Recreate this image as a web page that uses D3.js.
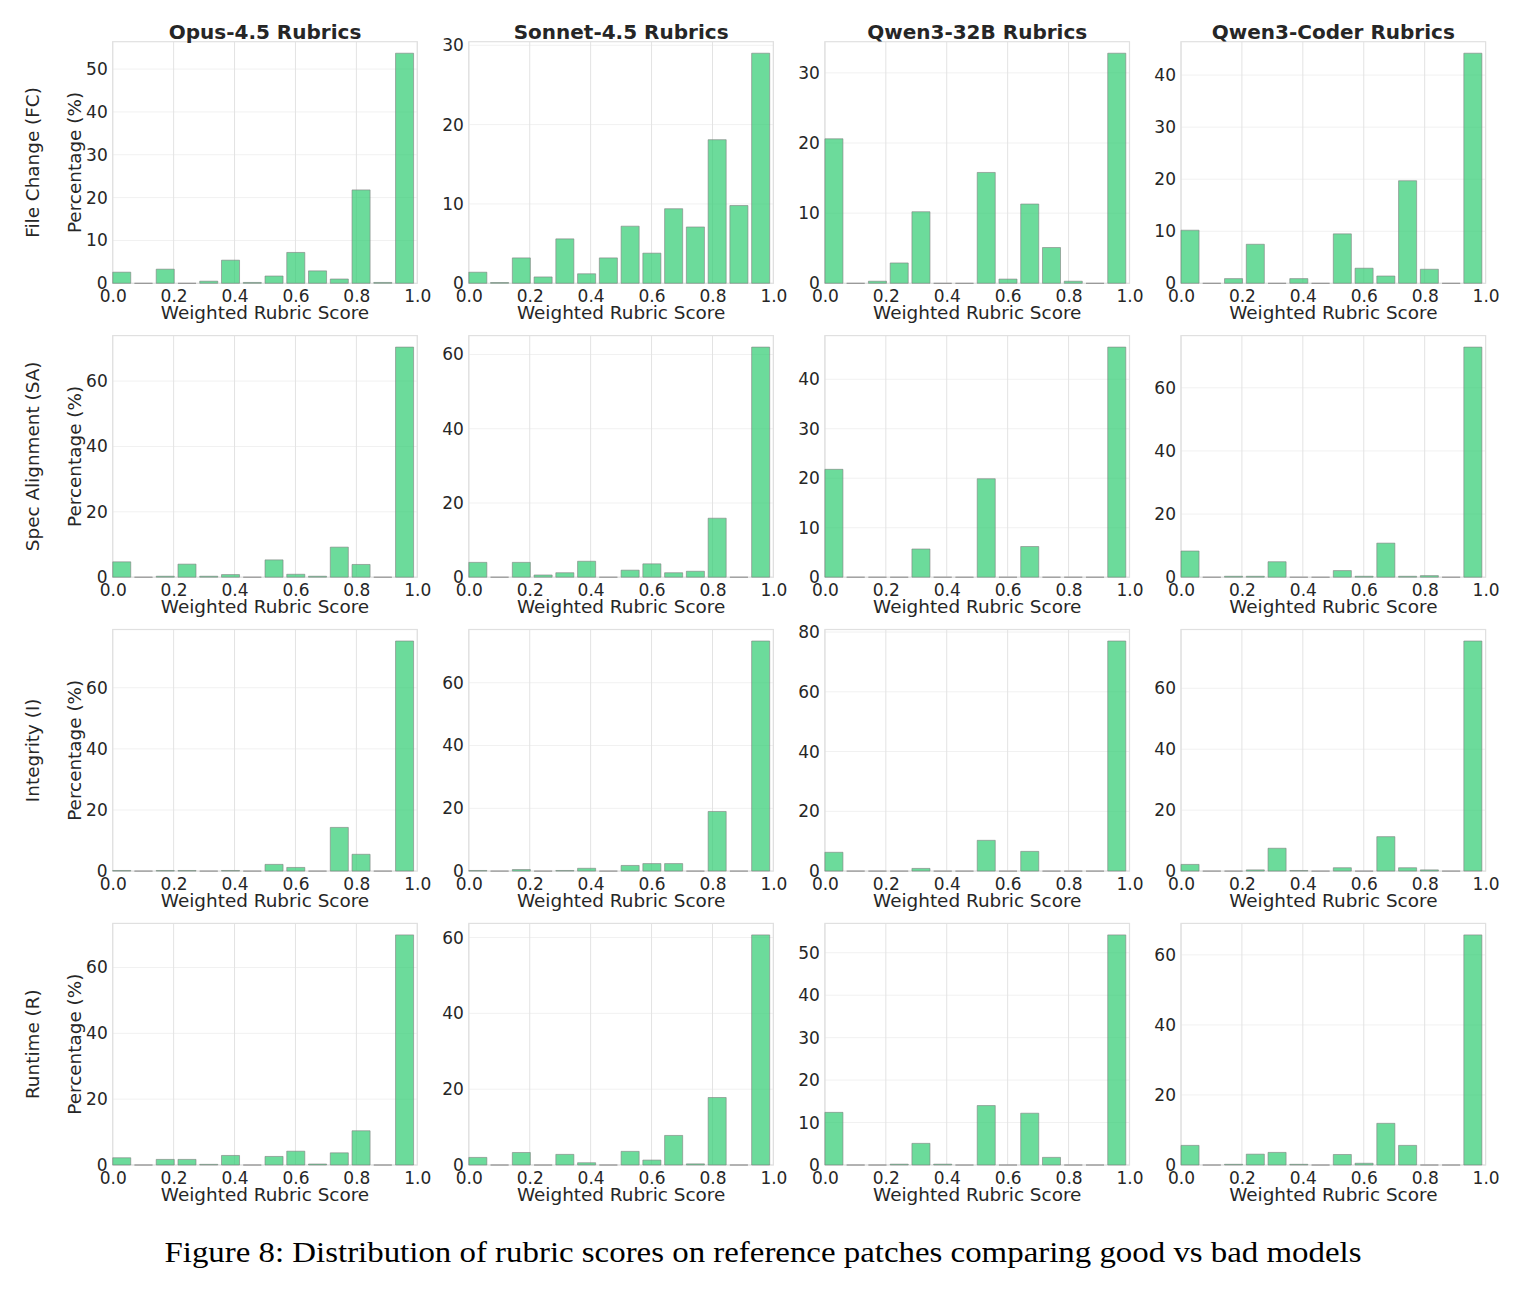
<!DOCTYPE html>
<html>
<head>
<meta charset="utf-8">
<script src="https://cdn.jsdelivr.net/npm/d3@7"></script>
<style>
  body { margin: 0; background: #fff; }
  svg { display: block; }
</style>
</head>
<body>
<script>
// --------------------
// DATA (percent of patches per score bin, 14 bins over [0, 1])
// --------------------
const models = ["Opus-4.5", "Sonnet-4.5", "Qwen3-32B", "Qwen3-Coder"];
const metrics = ["File Change (FC)", "Spec Alignment (SA)", "Integrity (I)", "Runtime (R)"];
const xTicks = [0, 0.2, 0.4, 0.6, 0.8, 1.0];
const nBins = 14;

const fcOpus   = [2.6, 0, 3.3, 0, 0.5, 5.4, 0.2, 1.7, 7.2, 2.9, 1.0, 21.8, 0.2, 53.7];
const fcSonnet = [1.4, 0.1, 3.2, 0.8, 5.6, 1.2, 3.2, 7.2, 3.8, 9.4, 7.1, 18.1, 9.8, 29.0];
const fcQwen32 = [20.6, 0, 0.3, 2.9, 10.2, 0, 0, 15.8, 0.6, 11.3, 5.1, 0.3, 0, 32.8];
const fcCoder  = [10.2, 0, 0.9, 7.5, 0, 0.9, 0, 9.5, 2.9, 1.4, 19.7, 2.7, 0, 44.2];

const saOpus   = [4.7, 0, 0.3, 4.0, 0.3, 0.8, 0, 5.3, 0.9, 0.3, 9.2, 3.9, 0, 70.4];
const saSonnet = [4.0, 0, 4.0, 0.6, 1.2, 4.3, 0, 1.9, 3.6, 1.2, 1.6, 15.9, 0, 62.0];
const saQwen32 = [21.8, 0, 0, 0, 5.7, 0, 0, 19.9, 0, 6.2, 0, 0, 0, 46.5];
const saCoder  = [8.3, 0, 0.3, 0.3, 4.9, 0, 0, 2.1, 0.3, 10.8, 0.3, 0.5, 0, 72.9];

const inOpus   = [0.2, 0, 0.2, 0.2, 0, 0.2, 0, 2.2, 1.2, 0, 14.3, 5.5, 0, 75.3];
const inSonnet = [0.2, 0, 0.5, 0, 0.2, 0.9, 0, 1.8, 2.4, 2.4, 0, 19.0, 0, 73.3];
const inQwen32 = [6.3, 0, 0, 0, 0.9, 0, 0, 10.3, 0, 6.6, 0, 0, 0, 77.0];
const inCoder  = [2.2, 0, 0, 0.4, 7.5, 0.2, 0, 1.1, 0, 11.3, 1.1, 0.4, 0, 75.5];

const rtOpus   = [2.2, 0, 1.7, 1.7, 0.2, 2.9, 0, 2.6, 4.2, 0.3, 3.7, 10.4, 0, 69.9];
const rtSonnet = [2.0, 0, 3.3, 0, 2.8, 0.6, 0, 3.6, 1.3, 7.8, 0.3, 17.8, 0, 60.7];
const rtQwen32 = [12.4, 0, 0, 0.2, 5.1, 0.2, 0, 14.0, 0, 12.2, 1.8, 0, 0, 54.2];
const rtCoder  = [5.6, 0, 0.2, 3.1, 3.6, 0.2, 0, 3.0, 0.5, 11.9, 5.6, 0, 0, 65.7];

const values = [
  [fcOpus, fcSonnet, fcQwen32, fcCoder],
  [saOpus, saSonnet, saQwen32, saCoder],
  [inOpus, inSonnet, inQwen32, inCoder],
  [rtOpus, rtSonnet, rtQwen32, rtCoder]
];

// y tick spacing per panel
const yTickSteps = [
  [10, 10, 10, 10],
  [20, 20, 10, 20],
  [20, 20, 20, 20],
  [20, 20, 10, 20]
];

const caption = "Figure 8: Distribution of rubric scores on reference patches comparing good vs bad models";


// --------------------
// LAYOUT
// --------------------
const width = 1527;
const height = 1289;
const left0 = 112.7, colStep = 356.1;
const top0 = 41.7, rowStep = 293.9;
const axW = 304.6, axH = 241.6;
const textColor = "#262626";
const font = "DejaVu Sans, sans-serif";

const svg = d3.select("body")
  .append("svg")
  .attr("width", width)
  .attr("height", height);

svg.append("rect")
  .attr("width", width)
  .attr("height", height)
  .attr("fill", "#fff");

const binW = 1 / nBins;

values.forEach((row, r) => {
  row.forEach((vals, c) => {
    const px = left0 + c * colStep;
    const py = top0 + r * rowStep;

    const x = d3.scaleLinear().domain([0, 1]).range([px, px + axW]);
    const y = d3.scaleLinear()
      .domain([0, d3.max(vals) * 1.05])
      .range([py + axH, py]);

    const step = yTickSteps[r][c];
    const yTicks = d3.range(0, y.domain()[1] + 1e-9, step);

    const g = svg.append("g");

    // grid
    g.selectAll(".hgrid")
      .data(yTicks)
      .join("line")
      .attr("x1", px).attr("x2", px + axW)
      .attr("y1", d => y(d)).attr("y2", d => y(d))
      .attr("stroke", "#f1f1f1")
      .attr("stroke-width", 1);

    g.selectAll(".vgrid")
      .data(xTicks)
      .join("line")
      .attr("x1", d => x(d)).attr("x2", d => x(d))
      .attr("y1", py).attr("y2", py + axH)
      .attr("stroke", "#e3e3e3")
      .attr("stroke-width", 1);

    // spines
    g.append("rect")
      .attr("x", px).attr("y", py)
      .attr("width", axW).attr("height", axH)
      .attr("fill", "none")
      .attr("stroke", "#e0e0e0")
      .attr("stroke-width", 1.2);

    // bars (paths, so empty bins still show their edge)
    g.selectAll(".bar")
      .data(vals)
      .join("path")
      .attr("d", (d, i) => {
        const x1 = x(i * binW);
        const x2 = x(i * binW + binW * 0.83);
        const yb = y(0), yt = y(d);
        return `M${x1},${yb}V${yt}H${x2}V${yb}Z`;
      })
      .attr("fill", "#2ecc71")
      .attr("fill-opacity", 0.7)
      .attr("stroke", "#808080")
      .attr("stroke-opacity", 0.6)
      .attr("stroke-width", 1);

    // axes
    const xAxis = g.append("g")
      .attr("transform", `translate(0,${py + axH})`)
      .call(d3.axisBottom(x)
        .tickValues(xTicks)
        .tickSize(0)
        .tickPadding(7)
        .tickFormat(d3.format(".1f")));

    const yAxis = g.append("g")
      .attr("transform", `translate(${px},0)`)
      .call(d3.axisLeft(y)
        .tickValues(yTicks)
        .tickSize(0)
        .tickPadding(5)
        .tickFormat(d3.format("d")));

    [xAxis, yAxis].forEach(a => {
      a.select(".domain").remove();
      a.selectAll("text")
        .attr("fill", textColor)
        .style("font-family", font)
        .style("font-size", "17px");
    });

    g.append("text")
      .attr("x", px + axW / 2)
      .attr("y", py + axH + 36)
      .attr("text-anchor", "middle")
      .attr("fill", textColor)
      .style("font-family", font)
      .style("font-size", "18.4px")
      .text("Weighted Rubric Score");

    if (r === 0) {
      g.append("text")
        .attr("x", px + axW / 2)
        .attr("y", py - 3)
        .attr("text-anchor", "middle")
        .attr("fill", textColor)
        .style("font-family", font)
        .style("font-size", "20px")
        .style("font-weight", "bold")
        .text(`${models[c]} Rubrics`);
    }

    if (c === 0) {
      const cy = py + axH / 2;
      g.append("text")
        .attr("transform", `translate(75,${cy}) rotate(-90)`)
        .attr("text-anchor", "middle")
        .attr("dy", "0.35em")
        .attr("fill", textColor)
        .style("font-family", font)
        .style("font-size", "18.4px")
        .text("Percentage (%)");

      g.append("text")
        .attr("transform", `translate(33,${cy}) rotate(-90)`)
        .attr("text-anchor", "middle")
        .attr("dy", "0.35em")
        .attr("fill", textColor)
        .style("font-family", font)
        .style("font-size", "18.4px")
        .text(metrics[r]);
    }
  });
});

// --------------------
// CAPTION
// --------------------
svg.append("text")
  .attr("x", 763)
  .attr("y", 1262)
  .attr("text-anchor", "middle")
  .attr("textLength", 1197)
  .attr("lengthAdjust", "spacingAndGlyphs")
  .attr("fill", "#000")
  .style("font-family", "'Liberation Serif', serif")
  .style("font-size", "30px")
  .text(caption);
</script>
</body>
</html>
